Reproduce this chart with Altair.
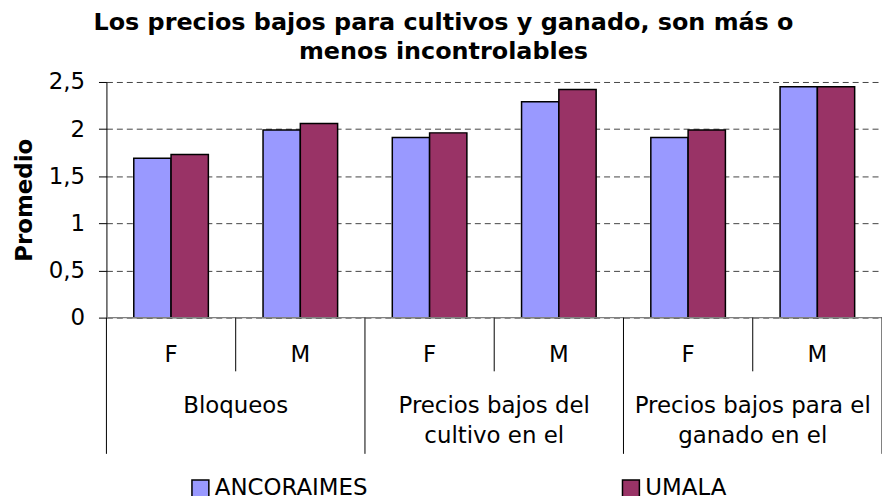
import altair as alt
import pandas as pd

# ---- data ----
keys = ["Bloqueos F", "Bloqueos M", "Cultivo F", "Cultivo M", "Ganado F", "Ganado M"]
sexes = ["F", "M", "F", "M", "F", "M"]
groups = ["Bloqueos", "Precios bajos del\ncultivo en el", "Precios bajos para el\nganado en el"]
series = ["ANCORAIMES", "UMALA"]
ancoraimes = [1.69, 1.99, 1.91, 2.29, 1.91, 2.45]
umala = [1.73, 2.06, 1.96, 2.42, 1.99, 2.45]
y_ticks = [0, 0.5, 1, 1.5, 2, 2.5]
colors = ["#9999FF", "#993366"]

FONT = "DejaVu Sans"
FS = 23
W, H = 780, 237

rows = []
for k, a, u in zip(keys, ancoraimes, umala):
    rows.append({"key": k, "serie": series[0], "valor": a})
    rows.append({"key": k, "serie": series[1], "valor": u})
bars_df = pd.DataFrame(rows)

sex_df = pd.DataFrame({"pos": [i + 0.5 for i in range(len(sexes))], "lab": sexes})
grp_df = pd.DataFrame({"pos": [1, 3, 5], "lab": [g.split("\n") for g in groups]})
long_div = pd.DataFrame({"pos": [0, 2, 4, 6]})
short_div = pd.DataFrame({"pos": [1, 3, 5]})

xq = alt.X("pos:Q", scale=alt.Scale(domain=[0, 6], nice=False, zero=False), axis=None)

bars = alt.Chart(bars_df).mark_bar(stroke="black", strokeWidth=1.5).encode(
    x=alt.X("key:N", sort=keys, axis=None,
            scale=alt.Scale(paddingInner=0.423, paddingOuter=0.2115)),
    xOffset=alt.XOffset("serie:N", sort=series, scale=alt.Scale(paddingInner=0, paddingOuter=0)),
    y=alt.Y("valor:Q", title="Promedio",
            scale=alt.Scale(domain=[0, 2.5], nice=False),
            axis=alt.Axis(values=y_ticks, labelExpr="replace(toString(datum.value), '.', ',')",
                          labelFontSize=FS, labelFont=FONT, labelColor="black",
                          titleFontSize=FS, titleFont=FONT, titleFontWeight="bold", titleColor="black",
                          titlePadding=12, tickSize=8, labelPadding=14, tickColor="black",
                          domainColor="black", grid=True, gridColor="#444444",
                          gridDash=[6, 4], gridWidth=1)),
    color=alt.Color("serie:N", sort=series,
                    scale=alt.Scale(domain=series, range=colors),
                    legend=alt.Legend(title=None, orient="none", legendX=83, legendY=397,
                                      direction="horizontal", symbolType="square",
                                      symbolSize=289, symbolStrokeColor="black",
                                      symbolStrokeWidth=1.5, labelFontSize=FS, labelFont=FONT,
                                      labelColor="black", labelOffset=3, columnPadding=253,
                                      gridAlign="all")),
)

baseline = alt.Chart(pd.DataFrame({"v": [0]})).mark_rule(color="#808080", strokeWidth=1.5).encode(
    y=alt.Y("v:Q"), x=alt.value(0), x2=alt.value(W)
)

long_rules = alt.Chart(long_div).mark_rule(color="black", strokeWidth=1).encode(
    x=xq, y=alt.value(H), y2=alt.value(H + 137)
)
short_rules = alt.Chart(short_div).mark_rule(color="black", strokeWidth=1).encode(
    x=xq, y=alt.value(H), y2=alt.value(H + 54)
)
sex_text = alt.Chart(sex_df).mark_text(fontSize=FS, font=FONT, color="black", baseline="middle").encode(
    x=xq, y=alt.value(H + 38), text="lab:N"
)
grp_text = alt.Chart(grp_df).mark_text(fontSize=FS, font=FONT, color="black", baseline="middle",
                                        lineHeight=30).encode(
    x=xq, y=alt.value(H + 89), text="lab"
)

chart = alt.layer(bars, baseline, long_rules, short_rules, sex_text, grp_text).resolve_scale(
    x="independent"
).properties(
    width=W, height=H,
    autosize=alt.AutoSizeParams(type="none"),
    padding={"left": 99, "top": 73, "right": 0, "bottom": 178},
    title=alt.TitleParams(
        ["Los precios bajos para cultivos y ganado, son más o", "menos incontrolables"],
        fontSize=24, font=FONT, fontWeight="bold", color="black", anchor="middle",
        frame="group", dx=-51, offset=7, lineHeight=29,
    ),
).configure_view(stroke=None)

chart.save("out.html", embed_options={"renderer": "svg", "actions": False})
